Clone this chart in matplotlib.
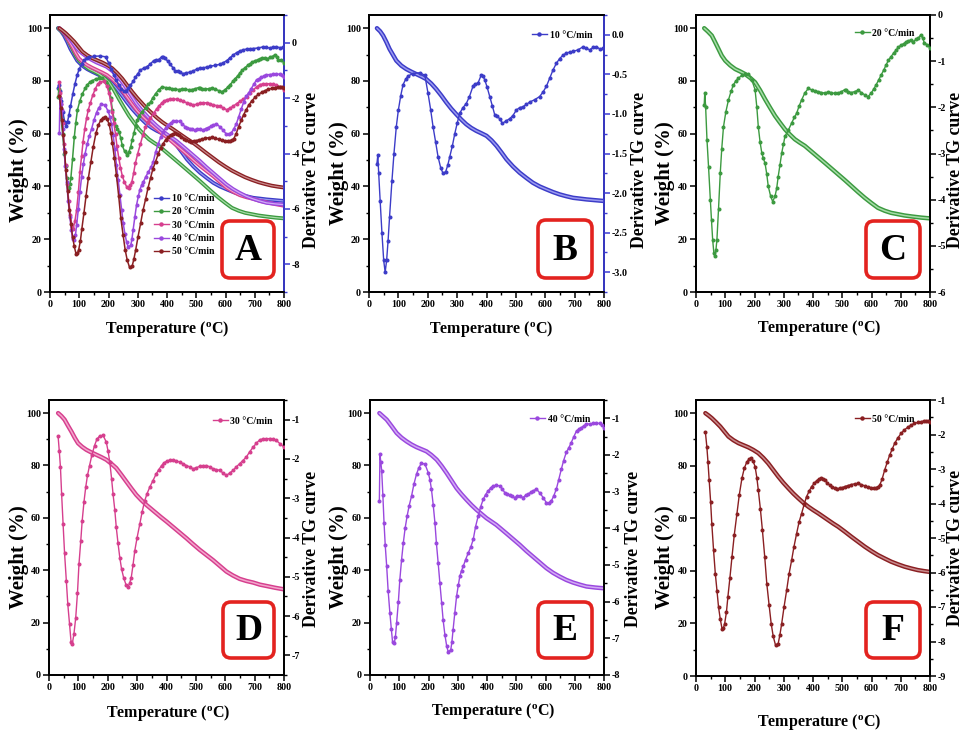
import matplotlib
matplotlib.use("Agg")
import matplotlib.pyplot as plt
from matplotlib.lines import Line2D
from matplotlib.patches import FancyBboxPatch
from matplotlib.transforms import IdentityTransform
from matplotlib.ticker import MultipleLocator, FormatStrFormatter

plt.rcParams.update({
    "font.family": ["Liberation Serif", "DejaVu Serif"],
    "font.weight": "bold",
    "mathtext.fontset": "custom",
    "mathtext.rm": "Liberation Serif:bold",
    "mathtext.it": "Liberation Serif:italic:bold",
    "axes.unicode_minus": False,
})

# ---------------- data ----------------
rate_labels = ["10 °C/min", "20 °C/min", "30 °C/min", "40 °C/min", "50 °C/min"]

# 10 °C/min
dtg10_t = [27, 30, 33, 38, 44, 50, 55, 60, 65, 70, 78, 85, 93, 100, 108, 116, 125, 133, 150, 172, 190, 201,
           210, 218, 227, 235, 244, 252, 261, 268, 275, 284, 292, 300, 309, 320, 331, 342, 354, 362, 371, 382,
           388, 394, 402, 411, 420, 428, 436, 445, 454, 466, 479, 490, 502, 513, 524, 536, 547, 564, 581, 593,
           604, 615, 627, 638, 649, 660, 672, 683, 695, 712, 729, 740, 751, 763, 774, 786, 797, 800]
dtg10_v = [-1.63, -1.52, -1.75, -2.1, -2.5, -2.85, -3.0, -2.85, -2.6, -2.3, -1.85, -1.5, -1.16, -0.95, -0.77,
           -0.63, -0.56, -0.52, -0.49, -0.48, -0.51, -0.74, -0.95, -1.16, -1.36, -1.54, -1.68, -1.75, -1.73,
           -1.65, -1.54, -1.40, -1.25, -1.12, -0.99, -0.92, -0.87, -0.78, -0.65, -0.62, -0.61, -0.51, -0.52,
           -0.57, -0.66, -0.78, -0.90, -1.01, -1.03, -1.06, -1.12, -1.09, -1.06, -1.02, -0.95, -0.92, -0.91,
           -0.88, -0.85, -0.82, -0.78, -0.72, -0.65, -0.55, -0.44, -0.36, -0.30, -0.26, -0.23, -0.22, -0.21,
           -0.19, -0.15, -0.17, -0.19, -0.16, -0.15, -0.18, -0.17, -0.18]
tg10_t = [27, 38, 48, 59, 70, 82, 93, 110, 127, 144, 161, 178, 195, 212, 229, 246, 263, 280, 297, 314, 331,
          348, 365, 382, 400, 417, 434, 451, 468, 490, 513, 536, 558, 581, 604, 626, 649, 672, 695, 718, 740,
          770, 800]
tg10_w = [100, 98.8, 97.2, 94.8, 92.1, 89.8, 87.7, 85.8, 84.5, 83.5, 82.6, 81.7, 80.7, 79.0, 76.9, 74.5, 71.9,
          69.5, 67.4, 65.4, 63.6, 62.2, 61.1, 60.2, 59.2, 57.5, 55.4, 52.9, 50.3, 47.6, 45.2, 43.2, 41.4, 40.0,
          38.9, 37.9, 37.0, 36.3, 35.7, 35.4, 35.1, 34.8, 34.5]

# 20 °C/min
dtg20_t = [28, 30, 33, 37.5, 43, 49, 53, 57, 61, 64, 68, 71.5, 77, 83, 88, 94, 102, 111, 120, 128, 136, 145,
           156, 168, 179, 191, 202, 208, 213, 219, 225, 230, 236, 242, 247, 255, 262, 270, 276, 281, 287, 293,
           299, 304, 316, 327, 336, 344, 352, 361, 372, 384, 395, 406, 418, 429, 440, 452, 463, 474, 486, 497,
           508, 514, 520, 531, 542, 554, 565, 577, 588, 599, 608, 616, 625, 633, 642, 650, 658, 667, 676, 684,
           692, 701, 710, 718, 726, 735, 743, 752, 760, 769, 775, 781, 790, 800]
dtg20_v = [-1.95, -1.68, -2.0, -2.7, -3.3, -4.0, -4.45, -4.87, -5.15, -5.23, -5.1, -4.87, -4.2, -3.42, -2.9,
           -2.42, -2.1, -1.84, -1.65, -1.51, -1.43, -1.37, -1.31, -1.28, -1.28, -1.41, -1.62, -2.0, -2.42, -2.75,
           -2.99, -3.1, -3.21, -3.45, -3.71, -3.92, -4.04, -3.93, -3.75, -3.50, -3.25, -2.99, -2.8, -2.63, -2.49,
           -2.34, -2.22, -2.13, -1.98, -1.84, -1.69, -1.59, -1.62, -1.64, -1.66, -1.68, -1.69, -1.67, -1.68,
           -1.70, -1.69, -1.66, -1.62, -1.63, -1.66, -1.68, -1.66, -1.63, -1.68, -1.73, -1.77, -1.69, -1.60,
           -1.51, -1.40, -1.30, -1.19, -1.08, -0.98, -0.90, -0.82, -0.76, -0.70, -0.65, -0.62, -0.58, -0.56,
           -0.54, -0.58, -0.53, -0.50, -0.43, -0.50, -0.61, -0.64, -0.72]
tg20_t = [28, 40, 54, 65, 77, 88, 100, 117, 134, 151, 168, 185, 202, 219, 236, 253, 270, 287, 304, 321, 338,
          355, 372, 389, 406, 423, 440, 463, 486, 509, 531, 554, 577, 600, 622, 645, 667, 690, 713, 740, 770, 800]
tg20_w = [100, 98.8, 97.2, 94.8, 92.1, 89.6, 87.7, 85.9, 84.5, 83.6, 82.6, 81.2, 79.5, 76.5, 73.1, 69.9, 66.8,
          64.2, 61.7, 59.7, 57.9, 56.6, 55.4, 53.8, 52.2, 50.6, 49.0, 46.8, 44.6, 42.4, 40.2, 37.9, 35.7, 33.7,
          31.9, 30.8, 30.0, 29.5, 29.0, 28.6, 28.2, 27.9]

# 30 °C/min
dtg30_t = [31, 35, 39, 43, 48, 53, 59, 64, 70, 75, 79, 85, 91, 97, 102, 108, 113, 119, 125, 131, 138, 146, 155,
           163, 172, 184, 195, 201, 207, 213, 218, 224, 229, 235, 241, 247, 254, 262, 269, 275, 280, 286, 292,
           300, 309, 317, 326, 334, 343, 354, 365, 374, 383, 391, 400, 411, 422, 434, 445, 456, 468, 479, 490,
           502, 513, 524, 536, 547, 558, 570, 581, 593, 604, 615, 627, 638, 649, 660, 672, 683, 695, 706, 718,
           729, 740, 751, 763, 774, 786, 800]
dtg30_v = [-1.42, -1.8, -2.21, -2.9, -3.66, -4.4, -5.10, -5.7, -6.21, -6.65, -6.72, -6.45, -6.04, -5.4, -4.68,
           -4.1, -3.57, -3.1, -2.72, -2.42, -2.17, -1.9, -1.66, -1.5, -1.42, -1.40, -1.57, -1.8, -2.08, -2.5,
           -2.89, -3.3, -3.74, -4.15, -4.51, -4.8, -5.02, -5.2, -5.26, -5.15, -5.02, -4.7, -4.34, -4.0, -3.66,
           -3.35, -3.06, -2.88, -2.72, -2.55, -2.38, -2.27, -2.17, -2.1, -2.06, -2.03, -2.02, -2.05, -2.08,
           -2.12, -2.17, -2.2, -2.25, -2.22, -2.19, -2.17, -2.17, -2.2, -2.25, -2.27, -2.29, -2.36, -2.42,
           -2.36, -2.29, -2.2, -2.12, -2.04, -1.95, -1.82, -1.70, -1.6, -1.51, -1.49, -1.49, -1.48, -1.49,
           -1.53, -1.61, -1.70]
tg30_t = [31, 42, 53, 64, 76, 88, 99, 113, 127, 144, 161, 178, 195, 212, 229, 246, 263, 280, 297, 314, 331,
          348, 365, 382, 400, 417, 434, 451, 468, 490, 513, 536, 558, 581, 604, 626, 649, 672, 695, 718, 740,
          770, 800]
tg30_w = [100, 98.9, 97.5, 95.3, 93.0, 90.5, 88.5, 87.1, 86.0, 85.0, 84.1, 83.2, 82.2, 80.7, 79.0, 76.5, 73.9,
          71.3, 68.8, 66.8, 65.0, 63.4, 61.8, 60.2, 58.6, 57.0, 55.4, 53.8, 52.2, 50.0, 47.8, 45.8, 43.9, 41.7,
          39.5, 38.0, 36.7, 35.9, 35.3, 34.5, 34.0, 33.3, 32.7]

# 40 °C/min
dtg40_t = [32, 34, 37, 40, 44, 48, 52, 57, 62, 68, 73, 77, 83, 87, 91, 97, 102, 108, 114, 120, 127, 134, 142,
           150, 159, 167, 176, 188, 199, 205, 210, 216, 222, 227, 233, 239, 245, 250, 256, 262, 267, 276, 280,
           284, 290, 296, 302, 307, 313, 319, 327, 336, 345, 353, 361, 370, 378, 387, 395, 404, 412, 421, 432,
           444, 452, 461, 470, 478, 487, 495, 503, 512, 523, 532, 540, 549, 557, 569, 580, 592, 603, 612, 620,
           628, 637, 645, 654, 662, 671, 680, 688, 697, 706, 714, 723, 731, 740, 751, 762, 774, 785, 793, 800]
dtg40_v = [-3.25, -1.98, -2.2, -2.43, -3.1, -3.85, -4.45, -5.03, -5.7, -6.31, -6.75, -7.09, -7.13, -6.95, -6.58,
           -6.0, -5.40, -4.85, -4.39, -4.0, -3.66, -3.38, -3.12, -2.8, -2.52, -2.35, -2.22, -2.25, -2.48, -2.68,
           -2.93, -3.35, -3.85, -4.4, -4.94, -5.5, -6.04, -6.5, -6.90, -7.2, -7.36, -7.32, -7.1, -6.77, -6.3,
           -5.85, -5.55, -5.31, -5.15, -5.03, -4.85, -4.67, -4.5, -4.30, -3.95, -3.66, -3.42, -3.21, -3.08,
           -2.98, -2.9, -2.84, -2.83, -2.84, -2.92, -3.03, -3.07, -3.10, -3.13, -3.16, -3.13, -3.12, -3.16,
           -3.1, -3.07, -3.02, -2.98, -2.93, -3.03, -3.16, -3.30, -3.3, -3.25, -3.12, -2.93, -2.68, -2.39,
           -2.15, -1.93, -1.8, -1.66, -1.5, -1.34, -1.3, -1.25, -1.2, -1.16, -1.15, -1.14, -1.13, -1.14, -1.18,
           -1.25]
tg40_t = [32, 44, 57, 74, 91, 108, 125, 142, 159, 176, 193, 210, 228, 245, 262, 279, 296, 313, 330, 347, 364,
          381, 398, 415, 432, 449, 466, 489, 512, 534, 557, 580, 603, 626, 648, 671, 694, 717, 740, 770, 800]
tg40_w = [100, 98.8, 97.5, 95.0, 92.4, 90.6, 89.2, 88.0, 87.0, 86.2, 85.4, 84.0, 82.2, 79.8, 77.1, 74.2, 71.3,
          69.0, 66.9, 64.9, 63.1, 61.5, 59.9, 58.6, 57.3, 55.7, 54.1, 51.9, 49.7, 47.4, 45.2, 43.0, 40.8, 39.0,
          37.6, 36.3, 35.3, 34.5, 33.8, 33.4, 33.1]

# 50 °C/min
dtg50_t = [32, 37, 41, 45, 50, 54, 60, 66, 72, 77, 83, 89, 94, 98, 104, 109, 116, 123, 131, 140, 148, 157, 165,
           174, 181, 188, 195, 202, 208, 213, 220, 227, 235, 242, 250, 257, 264, 272, 281, 287, 293, 301, 310,
           318, 327, 335, 344, 352, 361, 370, 378, 387, 395, 404, 412, 420, 427, 433, 440, 449, 457, 466, 474,
           483, 491, 500, 508, 520, 531, 542, 554, 565, 577, 588, 599, 608, 616, 622, 628, 636, 645, 654, 662,
           671, 679, 690, 701, 712, 724, 735, 747, 758, 769, 778, 786, 793, 800]
dtg50_v = [-1.92, -2.35, -2.8, -3.32, -3.95, -4.58, -5.35, -6.03, -6.55, -7.00, -7.35, -7.63, -7.6, -7.48,
           -7.15, -6.71, -6.15, -5.55, -4.9, -4.29, -3.75, -3.27, -2.98, -2.79, -2.72, -2.69, -2.77, -2.93,
           -3.25, -3.61, -4.15, -4.77, -5.55, -6.32, -6.95, -7.48, -7.85, -8.11, -8.06, -7.8, -7.48, -7.0,
           -6.51, -6.05, -5.64, -5.25, -4.87, -4.55, -4.29, -4.02, -3.80, -3.64, -3.51, -3.42, -3.34, -3.29,
           -3.27, -3.28, -3.32, -3.4, -3.47, -3.52, -3.56, -3.57, -3.56, -3.54, -3.51, -3.48, -3.45, -3.43,
           -3.42, -3.45, -3.49, -3.52, -3.54, -3.55, -3.54, -3.52, -3.47, -3.3, -3.03, -2.8, -2.60, -2.42,
           -2.26, -2.1, -1.97, -1.87, -1.79, -1.73, -1.68, -1.65, -1.63, -1.61, -1.60, -1.61, -1.63]
tg50_t = [32, 43, 54, 68, 83, 97, 111, 128, 145, 162, 179, 196, 213, 230, 247, 264, 281, 298, 316, 333, 350,
          367, 384, 401, 418, 435, 452, 469, 486, 509, 531, 554, 577, 600, 622, 645, 667, 690, 713, 736, 758,
          780, 800]
tg50_w = [100, 99.1, 98.1, 96.6, 94.9, 93.0, 91.1, 89.7, 88.6, 87.8, 87.0, 86.0, 84.8, 83.0, 80.9, 78.4, 75.9,
          73.6, 71.4, 69.4, 67.6, 65.9, 64.4, 63.1, 61.9, 60.6, 59.3, 58.0, 56.8, 54.9, 53.0, 51.1, 49.2, 47.5,
          46.0, 44.7, 43.5, 42.5, 41.6, 40.9, 40.3, 39.9, 39.6]

tg_t = [tg10_t, tg20_t, tg30_t, tg40_t, tg50_t]
tg_w = [tg10_w, tg20_w, tg30_w, tg40_w, tg50_w]
dtg_t = [dtg10_t, dtg20_t, dtg30_t, dtg40_t, dtg50_t]
dtg_v = [dtg10_v, dtg20_v, dtg30_v, dtg40_v, dtg50_v]

colors = ["#3c3cc8", "#3c9a40", "#d63f8e", "#9a48de", "#8a1f22"]
light = ["#9a9af0", "#a6dca8", "#f3a6cc", "#d2aaf5", "#c88a8c"]

# ---------------- layout (pixels) ----------------
W, H = 964, 734
fig = plt.figure(figsize=(W / 100, H / 100), dpi=100)
fig.patch.set_facecolor("white")


def frac_rect(l, t, r, b):
    return [l / W, 1 - b / H, (r - l) / W, (b - t) / H]


def fx(x):
    return x / W


def fy(y):
    return 1 - y / H


def style_axes(ax, ax2, rlim, rmajor, rminor, rfmt, rcolor):
    ax.set_xlim(0, 800)
    ax.set_ylim(0, 105)
    ax.xaxis.set_major_locator(MultipleLocator(100))
    ax.xaxis.set_minor_locator(MultipleLocator(50))
    ax.yaxis.set_major_locator(MultipleLocator(20))
    ax.yaxis.set_minor_locator(MultipleLocator(10))
    ax2.set_ylim(*rlim)
    ax2.yaxis.set_major_locator(MultipleLocator(rmajor))
    ax2.yaxis.set_minor_locator(MultipleLocator(rminor))
    ax2.yaxis.set_major_formatter(FormatStrFormatter(rfmt))
    for a in (ax, ax2):
        a.tick_params(which="major", direction="out", length=4, width=1.1, labelsize=7.2, pad=1.8)
        a.tick_params(which="minor", direction="out", length=2.2, width=1.0)
        for s in a.spines.values():
            s.set_linewidth(1.3)
    ax2.spines["right"].set_color(rcolor)
    ax2.tick_params(axis="y", which="both", color=rcolor)
    for lab in ax.get_xticklabels() + ax.get_yticklabels() + ax2.get_yticklabels():
        lab.set_fontweight("bold")


def draw_tg(ax, i, lw_out=3.2, lw_in=1.1):
    ax.plot(tg_t[i], tg_w[i], color=colors[i], lw=lw_out, solid_capstyle="round", zorder=3)
    ax.plot(tg_t[i], tg_w[i], color=light[i], lw=lw_in, solid_capstyle="round", zorder=3)


def draw_dtg(ax2, i, lw=1.0):
    ax2.plot(dtg_t[i], dtg_v[i], color=colors[i], lw=lw, marker="o", ms=1.9,
             mfc=colors[i], mec=colors[i], zorder=3)


def handle(i):
    return Line2D([], [], color=colors[i], lw=1.0, marker="o", ms=2.2)


def box_label(l, t, r, b, letter):
    box = FancyBboxPatch((l, H - b), r - l, b - t,
                         boxstyle="round,pad=0,rounding_size=8",
                         fc="white", ec="#e3231f", lw=2.6,
                         transform=IdentityTransform(), zorder=5)
    fig.patches.append(box)
    fig.text(fx((l + r) / 2), fy((t + b) / 2 + 1), letter, fontsize=27, fontweight="bold",
             ha="center", va="center", zorder=6)


def axis_labels(wx, wy, dx, dy, tx, ty):
    fig.text(fx(wx), fy(wy), "Weight (%)", rotation=90, fontsize=15, fontweight="bold",
             ha="center", va="center")
    fig.text(fx(dx), fy(dy), "Derivative TG curve", rotation=90, fontsize=12.8, fontweight="bold",
             ha="center", va="center")
    fig.text(fx(tx), fy(ty), r"Temperature ($^{\rm o}$C)", fontsize=11.5, fontweight="bold",
             ha="center", va="center")


# ---------------- panel A: all heating rates ----------------
axA = fig.add_axes(frac_rect(50, 15, 284, 292))
axA2 = axA.twinx()
style_axes(axA, axA2, (-9, 1), 2, 1, "%d", "#3c3cd2")
for i in range(5):
    draw_tg(axA, i, lw_out=2.8, lw_in=0.9)
for i in range(5):
    draw_dtg(axA2, i, lw=1.1)
axA2.legend([handle(i) for i in range(5)], rate_labels, loc="upper left",
            bbox_to_anchor=(fx(154), fy(194)), bbox_transform=fig.transFigure,
            frameon=False, fontsize=7, handlelength=1.5, handletextpad=0.3,
            labelspacing=0.45, borderpad=0, borderaxespad=0, numpoints=1)
axis_labels(19, 170, 312, 170, 167, 329)
box_label(222, 221, 274, 278, "A")

# ---------------- single-rate panels ----------------
single = [
    # index, axes rect, right limits, major, minor, fmt, spine color, legend pos, labels, box, letter
    (0, (369, 15, 604, 292), (-3.25, 0.25), 0.5, 0.25, "%.1f", "#3c3cd2", (532, 35),
     (339, 173, 640, 170, 491, 329), (538, 220, 592, 278), "B"),
    (1, (696, 15, 930, 292), (-6, 0), 1, 0.5, "%d", "black", (855, 33),
     (665, 173, 955, 170, 819, 328), (866, 221, 920, 278), "C"),
    (2, (49, 400, 284, 675), (-7.5, -0.5), 1, 0.5, "%d", "black", (213, 421),
     (19, 557, 312, 549, 168, 713), (223, 602, 274, 658), "D"),
    (3, (370, 400, 604, 675), (-8, -0.5), 1, 0.5, "%d", "black", (530, 419),
     (339, 557, 633, 549, 493, 711), (538, 602, 592, 658), "E"),
    (4, (696, 400, 930, 676), (-9, -1), 1, 0.5, "%d", "black", (855, 419),
     (665, 557, 955, 548, 819, 722), (866, 602, 920, 658), "F"),
]

for i, rect, rlim, rmaj, rmin, fmt, scol, lpos, labs, box, letter in single:
    ax = fig.add_axes(frac_rect(*rect))
    ax2 = ax.twinx()
    style_axes(ax, ax2, rlim, rmaj, rmin, fmt, scol)
    draw_tg(ax, i)
    draw_dtg(ax2, i)
    ax2.legend([handle(i)], [rate_labels[i]], loc="center left",
               bbox_to_anchor=(fx(lpos[0]), fy(lpos[1])), bbox_transform=fig.transFigure,
               frameon=False, fontsize=7, handlelength=1.5, handletextpad=0.3,
               borderpad=0, borderaxespad=0, numpoints=1)
    axis_labels(*labs)
    box_label(*box, letter)

fig.savefig("out.png", dpi=100)
